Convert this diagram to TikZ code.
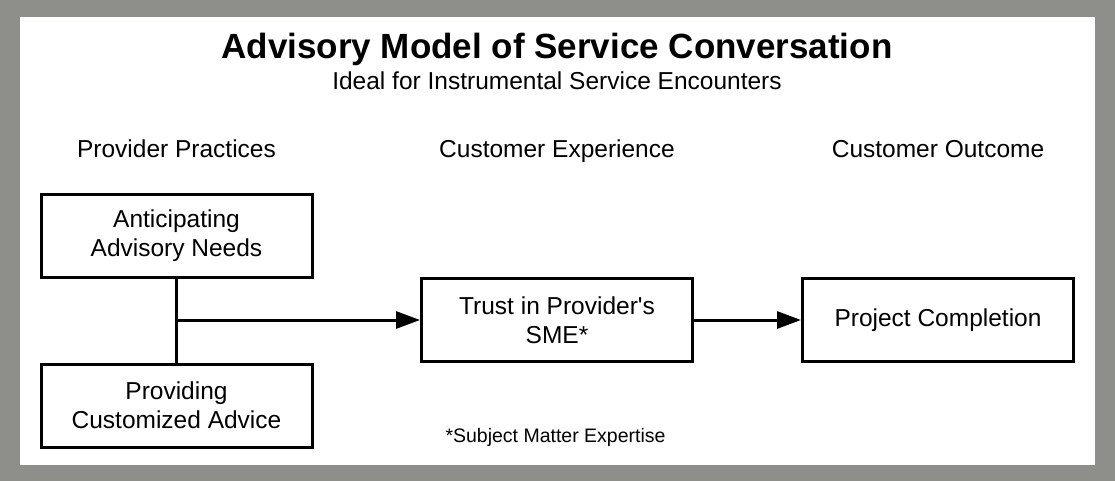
\documentclass[tikz,border=0pt]{standalone}
\usepackage{fontspec}
\setmainfont{Liberation Sans}
\usetikzlibrary{arrows.meta}
\definecolor{framegray}{RGB}{142,142,138}

\begin{document}
\begin{tikzpicture}[x=1pt, y=-1pt]
    % Define styles
    \tikzset{
        maintitle/.style={font=\fontsize{35}{42}\selectfont\bfseries, anchor=base},
        subtitletext/.style={font=\fontsize{24.5}{29}\selectfont, anchor=base},
        columnhead/.style={font=\fontsize{24.5}{29}\selectfont, anchor=base},
        conceptbox/.style={draw, line width=3pt, minimum width=271pt, minimum height=83pt,
            inner sep=0pt, align=center, font=\fontsize{24.5}{29}\selectfont},
        notetext/.style={font=\fontsize{19.5}{23}\selectfont, anchor=base},
        link/.style={line width=3pt},
        flow/.style={line width=3pt, -{Triangle[length=24pt, width=17pt]}}
    }

    % Draw frame
    \useasboundingbox (0,0) rectangle (1115,481);
    \fill[framegray] (0,0) rectangle (1115,481);
    \fill[white] (20,17) rectangle (1095,465);

    % Add title
    \node[maintitle] (title) at (557,59) {Advisory Model of Service Conversation};
    \node[subtitletext] (subtitle) at (557,90) {Ideal for Instrumental Service Encounters};

    % Add column headings
    \node[columnhead] (provhead) at (176.5,158) {Provider Practices};
    \node[columnhead] (exphead) at (557,158) {Customer Experience};
    \node[columnhead] (outhead) at (938,158) {Customer Outcome};

    % Draw boxes
    \node[conceptbox] (anticip) at (176.5,235.5) {Anticipating\\Advisory Needs};
    \node[conceptbox] (provide) at (176.5,405.5) {Providing\\Customized Advice};
    \node[conceptbox] (trust) at (557,320) {Trust in Provider\textquotesingle s\\SME*};
    \node[conceptbox] (project) at (938,320) {Project Completion};

    % Draw connectors
    \draw[link] (anticip.south) -- (provide.north);
    \coordinate (junc) at (anticip.south |- trust.west);
    \draw[flow] (junc) -- (trust.west);
    \draw[flow] (trust.east) -- (project.west);

    % Add footnote
    \node[notetext] (note) at (555.5,442) {*Subject Matter Expertise};
\end{tikzpicture}
\end{document}
